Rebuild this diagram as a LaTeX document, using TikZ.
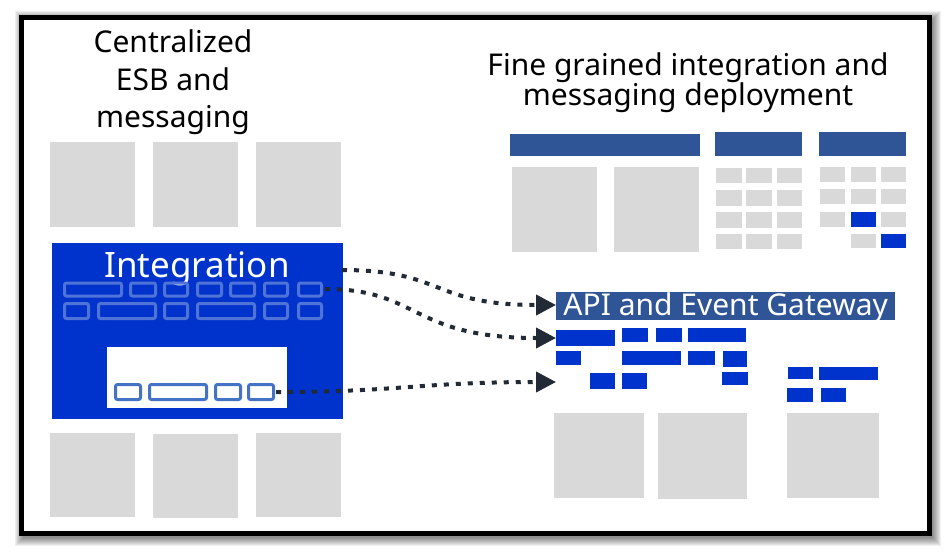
\documentclass[tikz,border=0pt]{standalone}
\usepackage{fontspec}
\setmainfont{Noto Sans}
\usetikzlibrary{arrows.meta}
\definecolor{boxgrey}{HTML}{D9D9D9}
\definecolor{ibmblue}{HTML}{0033CC}
\definecolor{barblue}{HTML}{2F5597}
\definecolor{lineblue}{HTML}{4472C4}
\definecolor{onblue}{RGB}{80,115,215}
\definecolor{arrowdark}{HTML}{222A35}
\newcommand\rbox[5]{\path[#1] (#2,#3) rectangle (#4,#5);}
\begin{document}
\begin{tikzpicture}[x=1pt,y=-1pt,
  greybox/.style={fill=boxgrey},
  bluebox/.style={fill=ibmblue},
  barbox/.style={fill=barblue},
  outblue/.style={draw=onblue,line width=3pt,rounded corners=2pt},
  outwhite/.style={draw=lineblue,line width=3pt,fill=white,rounded corners=2pt},
  titletext/.style={align=center,inner sep=0pt,anchor=north},
  flow/.style={draw=arrowdark,line width=4pt,dash pattern=on 5pt off 7pt,
    -{Triangle[length=20pt,width=20pt]}}]
\useasboundingbox (0,0) rectangle (952,552);
\fill[white] (0,0) rectangle (952,552);
% shadow
\foreach \d in {1,...,9}
  \fill[black,opacity=0.06] (21.5-\d+2,17-\d+3) rectangle (929.5+\d+2,533.5+\d+3);
% frame
\draw[line width=5pt,fill=white] (21.5,17) rectangle (929.5,533.5);

% titles
\node[titletext,font=\fontsize{30}{37.5}\selectfont] (ltitle) at (173,29.5)
  {Centralized\\ESB and\\messaging};
\node[titletext,font=\fontsize{30}{30}\selectfont] (rtitle) at (688,52)
  {Fine grained integration and\\messaging deployment};

% left grey boxes
\rbox{greybox}{50}{142}{135}{227}
\rbox{greybox}{153}{142}{238}{227}
\rbox{greybox}{256}{142}{341}{227}
\rbox{greybox}{50}{433}{135}{517}
\rbox{greybox}{153}{434}{238}{518}
\rbox{greybox}{256}{433}{341}{517}

% integration box
\node[bluebox,minimum width=291pt,minimum height=176pt,inner sep=0pt,anchor=north west] (esb) at (52,243) {};
\node[text=white,font=\fontsize{35}{35}\selectfont,anchor=base,inner sep=0pt] (esblabel) at (197,277) {Integration};
% outline boxes row 1
\rbox{outblue}{64.5}{283}{121.5}{296}
\rbox{outblue}{130.5}{283}{155.5}{296}
\rbox{outblue}{164.5}{283}{187.5}{296}
\rbox{outblue}{197.5}{283}{221.5}{296}
\rbox{outblue}{230.5}{283}{254.5}{296}
\rbox{outblue}{264.5}{283}{287.5}{296}
\rbox{outblue}{298.5}{283}{321.5}{296}
% row 2
\rbox{outblue}{64.5}{303.5}{88.5}{318.5}
\rbox{outblue}{98.5}{303.5}{155.5}{318.5}
\rbox{outblue}{164.5}{303.5}{187.5}{318.5}
\rbox{outblue}{197.5}{303.5}{254.5}{318.5}
\rbox{outblue}{264.5}{303.5}{287.5}{318.5}
\rbox{outblue}{298.5}{303.5}{321.5}{318.5}
% white inner box
\node[fill=white,minimum width=180pt,minimum height=61pt,inner sep=0pt,anchor=north west] (inner) at (107,347) {};
\rbox{outwhite}{115.5}{384.5}{140.5}{399.5}
\rbox{outwhite}{149.5}{384.5}{206.5}{399.5}
\rbox{outwhite}{215.5}{384.5}{240.5}{399.5}
\rbox{outwhite}{248.5}{384.5}{273.5}{399.5}

% right top bars
\rbox{barbox}{510}{134}{700}{156}
\rbox{barbox}{715}{132}{802}{156}
\rbox{barbox}{819}{132}{906}{156}
\rbox{greybox}{512}{167}{597}{252}
\rbox{greybox}{614}{167}{699}{252}
% grid 2
\foreach \ya/\yb in {168/183,190/206,212/228,234/249}
  \foreach \xa/\xb in {716/742,746/772,777/802}
    \fill[boxgrey] (\xa,\ya) rectangle (\xb,\yb);
% grid 3
\foreach \ya/\yb in {167/182,189/204}
  \foreach \xa/\xb in {820/845,851/876,881/906}
    \fill[boxgrey] (\xa,\ya) rectangle (\xb,\yb);
\rbox{greybox}{820}{212}{845}{227}
\rbox{bluebox}{851}{212}{876}{227}
\rbox{greybox}{881}{212}{906}{227}
\rbox{greybox}{851}{234}{876}{248}
\rbox{bluebox}{881}{234}{906}{248}

% gateway
\node[barbox,text=white,font=\fontsize{30}{30}\selectfont,minimum width=339pt,
  inner sep=0pt,text height=23pt,text depth=5pt,anchor=north west] (gw) at (556,292)
  {API and Event Gateway};
% blue pieces
\rbox{bluebox}{556}{330}{615}{346}
\rbox{bluebox}{622}{328}{648}{342}
\rbox{bluebox}{656}{328}{682}{342}
\rbox{bluebox}{688}{328}{746}{342}
\rbox{bluebox}{556}{351}{581}{365}
\rbox{bluebox}{622}{351}{681}{365}
\rbox{bluebox}{688}{351}{715}{365}
\rbox{bluebox}{723}{351}{747}{367}
\rbox{bluebox}{590}{373}{615}{389}
\rbox{bluebox}{622}{373}{647}{389}
\rbox{bluebox}{722}{372}{748}{385}
\rbox{bluebox}{788}{367}{813}{379}
\rbox{bluebox}{819}{367}{878}{380}
\rbox{bluebox}{787}{388}{813}{402}
\rbox{bluebox}{821}{388}{846}{402}
% bottom right greys
\rbox{greybox}{554}{413}{644}{498}
\rbox{greybox}{658}{413}{747}{499}
\rbox{greybox}{787}{413}{879}{498}

% arrows
\coordinate (a1s) at (342,270);
\coordinate (a1e) at (556,305);
\coordinate (a2s) at (325,289);
\coordinate (a2e) at (556,338);
\coordinate (a3s) at (276,392);
\coordinate (a3e) at (556,382);
\draw[flow] (a1s) .. controls (445,270) and (430,305) .. (a1e);
\draw[flow] (a2s) .. controls (420,289) and (410,338) .. (a2e);
\draw[flow] (a3s) .. controls (400,392) and (420,382) .. (a3e);
\end{tikzpicture}
\end{document}
